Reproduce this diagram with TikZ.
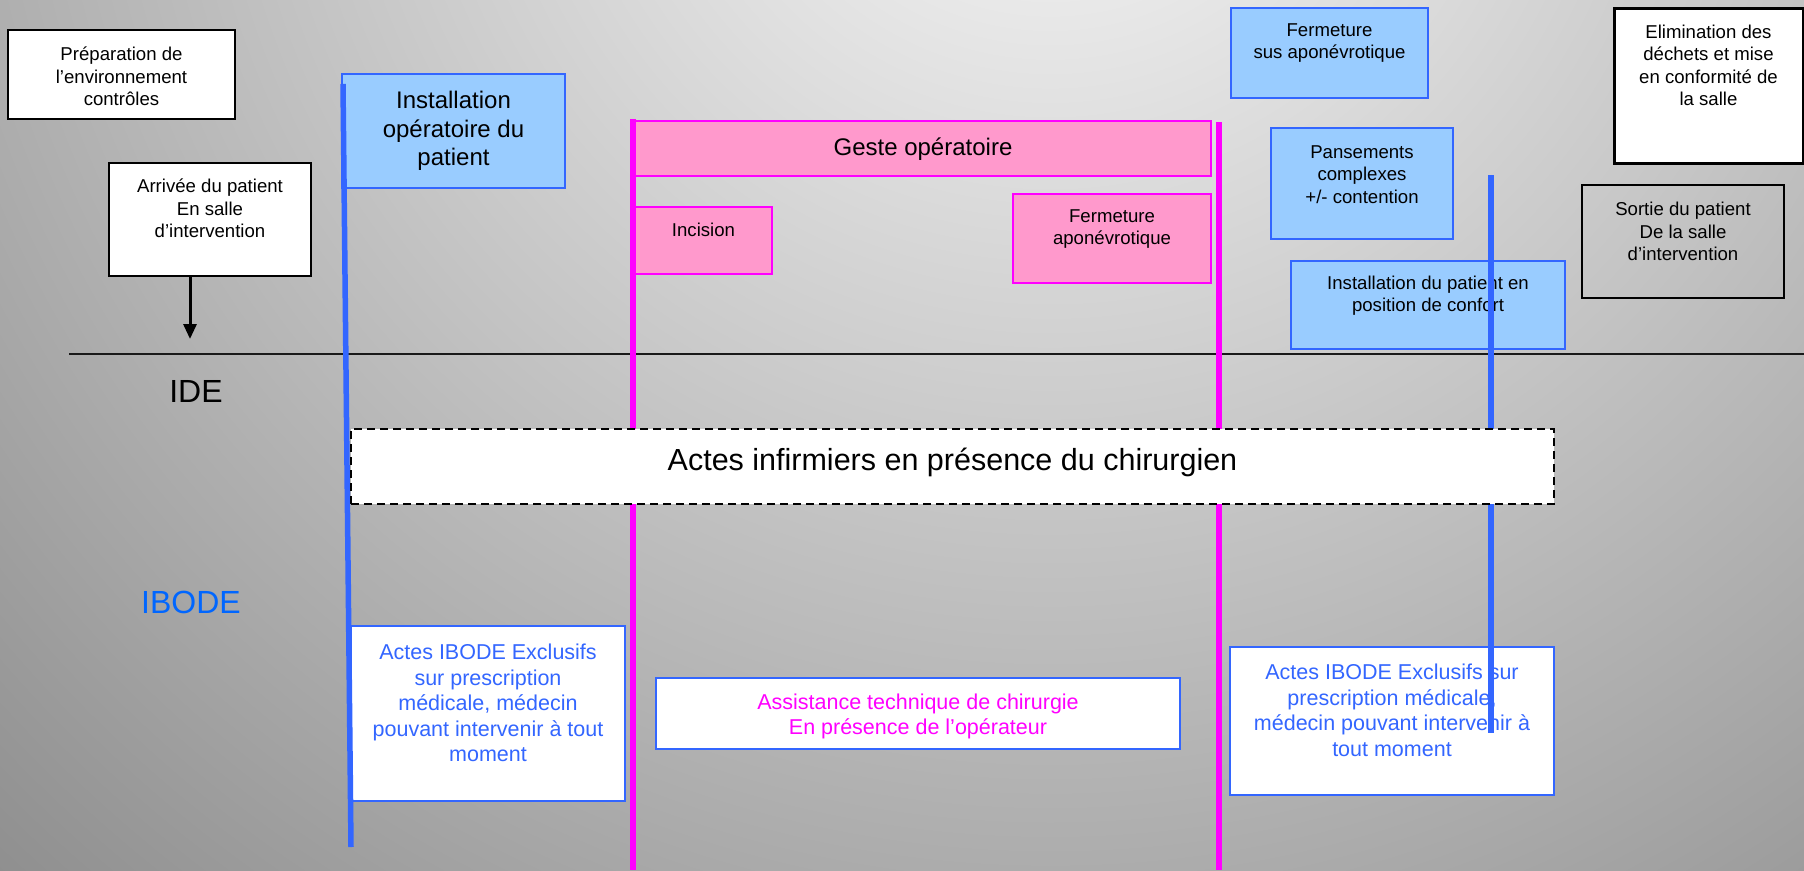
\documentclass[tikz,border=0pt]{standalone}
\usepackage{fontspec}
\setmainfont{Liberation Sans}
\usetikzlibrary{arrows.meta}
\definecolor{bglight}{HTML}{FAFAFA}
\definecolor{bgdark}{HTML}{6F6F6F}
\definecolor{ppblue}{HTML}{3366FF}
\definecolor{ppsky}{HTML}{99CCFF}
\definecolor{pppink}{HTML}{FF99CC}
\definecolor{ppmagenta}{HTML}{FF00FF}
\definecolor{ibodeblue}{HTML}{0066FF}
\pgfdeclareradialshading{bgshade}{\pgfpoint{0bp}{0bp}}{color(0bp)=(bglight); color(25bp)=(bgdark); color(50bp)=(bgdark)}
\newcommand{\txtsmall}{\fontsize{18.6}{22.3}\selectfont}
\newcommand{\txtmid}{\fontsize{21.5}{25.5}\selectfont}
\newcommand{\txtbig}{\fontsize{24}{28.5}\selectfont}
\newcommand{\txthuge}{\fontsize{30.5}{36}\selectfont}
\newcommand{\txtlane}{\fontsize{32}{38}\selectfont}

\begin{document}
\begin{tikzpicture}[x=1pt,y=-1pt,
	whitebox/.style={draw=black,line width=2pt,fill=white,inner sep=0pt},
	skybox/.style={draw=ppblue,line width=2pt,fill=ppsky,inner sep=0pt},
	pinkbox/.style={draw=ppmagenta,line width=2pt,fill=pppink,inner sep=0pt},
	ibodebox/.style={draw=ppblue,line width=2pt,fill=white,inner sep=0pt},
	boxtext/.style={align=center,inner sep=0pt,font=\txtsmall},
	blueline/.style={draw=ppblue,line width=5.5pt},
	pinkline/.style={draw=ppmagenta,line width=6pt}]
			\useasboundingbox (0,0) rectangle (1804,870);
			\begin{scope}
				\clip (0,0) rectangle (1804,870);
				\shade[shading=bgshade] (1050,-250) circle (2000);
			\end{scope}
			\node[whitebox,minimum width=227pt,minimum height=89pt] (prep) at (121.5,74.5) {};
			\node[boxtext] (prep-t) at (121.5,76.5) {Préparation de\\l’environnement\\contrôles};
			\node[whitebox,minimum width=202pt,minimum height=113pt] (arrivee) at (210,219.5) {};
			\node[boxtext] (arrivee-t) at (210,208.5) {Arrivée du patient\\En salle\\d’intervention};
			\node[skybox,minimum width=223pt,minimum height=114pt] (instop) at (453.5,131) {};
			\node[boxtext,font=\txtbig] (instop-t) at (453.5,131) {Installation\\opératoire du\\patient};
			\node[pinkbox,minimum width=576pt,minimum height=55pt] (geste) at (923,148.5) {};
			\node[boxtext,font=\txtbig] (geste-t) at (923,149) {Geste opératoire};
			\node[pinkbox,minimum width=137pt,minimum height=67pt] (incision) at (703.5,240.5) {};
			\node[boxtext] (incision-t) at (703.5,230) {Incision};
			\node[pinkbox,minimum width=198pt,minimum height=89pt] (fermapo) at (1112,238.5) {};
			\node[boxtext] (fermapo-t) at (1112,229) {Fermeture\\aponévrotique};
			\node[skybox,minimum width=197pt,minimum height=90pt] (fermsus) at (1329.5,53) {};
			\node[boxtext] (fermsus-t) at (1329.5,43) {Fermeture\\sus aponévrotique};
			\node[skybox,minimum width=182pt,minimum height=111pt] (pansement) at (1362,183.5) {};
			\node[boxtext] (pansement-t) at (1362,174.5) {Pansements\\complexes\\+/- contention};
			\node[skybox,minimum width=274pt,minimum height=88pt] (confort) at (1428,305) {};
			\node[boxtext] (confort-t) at (1428,295.5) {Installation du patient en\\position de confort};
			\node[whitebox,line width=3pt,minimum width=189pt,minimum height=155pt] (elim) at (1708.5,85.5) {};
			\node[boxtext] (elim-t) at (1708.5,65.5) {Elimination des\\déchets et mise\\en conformité de\\la salle};
			\node[whitebox,fill=none,line width=2.5pt,minimum width=202pt,minimum height=113pt] (sortie) at (1683,241.5) {};
			\node[boxtext] (sortie-t) at (1683,231.5) {Sortie du patient\\De la salle\\d’intervention};
			\node[ibodebox,minimum width=274pt,minimum height=175pt] (actesl) at (488,713.5) {};
			\node[boxtext,font=\txtmid,text=ppblue] (actesl-t) at (488,703) {Actes IBODE Exclusifs\\sur prescription\\médicale, médecin\\pouvant intervenir à tout\\moment};
			\node[ibodebox,minimum width=524pt,minimum height=71pt] (assist) at (918,713.5) {};
			\node[boxtext,font=\txtmid,text=ppmagenta] (assist-t) at (918,716.5) {Assistance technique de chirurgie\\En présence de l’opérateur};
			\node[ibodebox,minimum width=324pt,minimum height=148pt] (actesr) at (1392,721) {};
			\node[boxtext,font=\txtmid,text=ppblue] (actesr-t) at (1392,710.5) {Actes IBODE Exclusifs sur\\prescription médicale,\\médecin pouvant intervenir à\\tout moment};
			\node[boxtext,font=\txtlane] (ide) at (196,391) {IDE};
			\node[boxtext,font=\txtlane,text=ibodeblue] (ibode) at (191,602) {IBODE};
			\coordinate (sep-l) at (69,354);
			\coordinate (sep-r) at (1804,354);
			\draw[line width=2pt,black!90] (sep-l) -- (sep-r);
			\coordinate (arrtip) at (190,339);
			\draw[line width=3pt,-{Triangle[length=15pt,width=13pt]}] (arrivee.south -| arrtip) -- (arrtip);
			\coordinate (bl1-top) at (343,84);
			\coordinate (bl1-bot) at (351,847);
			\coordinate (bl2-top) at (1491,175);
			\coordinate (bl2-bot) at (1491,733);
			\coordinate (pl1-top) at (633,119);
			\coordinate (pl1-bot) at (633,870);
			\coordinate (pl2-top) at (1219,122);
			\coordinate (pl2-bot) at (1219,870);
			\draw[blueline] (bl1-top) -- (bl1-bot);
			\draw[blueline] (bl2-top) -- (bl2-bot);
			\draw[pinkline] (pl1-top) -- (pl1-bot);
			\draw[pinkline] (pl2-top) -- (pl2-bot);
			\node[whitebox,line width=1.8pt,dash pattern=on 8pt off 5pt,minimum width=1203pt,minimum height=75pt] (chir) at (952.5,466.5) {};
			\node[boxtext,font=\txthuge] (chir-t) at (952.5,462) {Actes infirmiers en présence du chirurgien};
		\end{tikzpicture}
\end{document}
